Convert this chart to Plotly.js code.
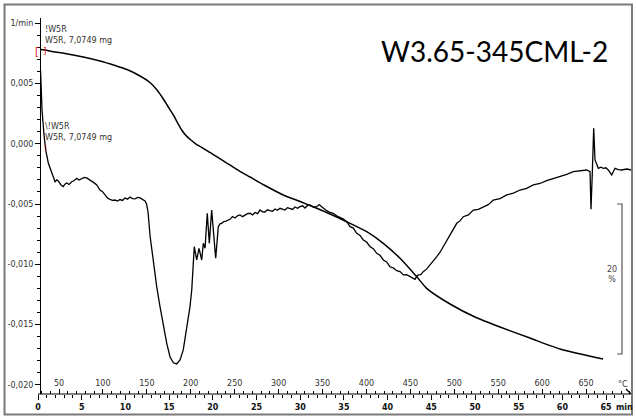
<!DOCTYPE html>
<html>
<head>
<meta charset="utf-8">
<script src="https://cdn.plot.ly/plotly-3.0.1.min.js"></script>
<style>html,body{margin:0;padding:0;background:#fff;}#chart{width:636px;height:419px;}</style>
</head>
<body>
<div id="chart"></div>
<script>
// ---- DTG (1/min) vs time (min) ----
const dtgTime = [
  0.29,0.46,0.69,0.88,1.18,1.57,1.95,2.15,2.32,2.63,
  2.89,3.08,3.28,3.55,3.86,4.15,4.43,4.69,5.00,5.30,
  5.57,5.85,6.14,6.43,6.72,7.09,7.38,7.67,7.95,8.24,
  8.52,8.81,9.10,9.38,9.67,9.95,10.24,10.53,10.81,11.10,
  11.38,11.67,11.95,12.24,12.42,12.59,12.81,13.19,13.58,13.96,
  14.34,14.73,15.10,15.48,15.87,16.25,16.62,17.01,17.39,17.59,
  17.77,17.88,18.16,18.42,18.73,18.91,19.11,19.37,19.60,19.87,
  20.06,20.33,20.63,20.82,21.02,21.25,21.51,21.75,21.97,22.25,
  22.54,22.82,23.11,23.40,23.68,23.97,24.26,24.55,24.83,25.12,
  25.40,25.69,25.97,26.25,26.54,26.83,27.12,27.40,27.69,27.97,
  28.26,28.55,28.83,29.12,29.41,29.70,29.98,30.27,30.55,30.84,
  31.12,31.50,31.89,32.18,32.46,32.75,33.03,33.41,33.79,34.17,
  34.55,34.94,35.32,35.70,36.08,36.46,36.84,37.22,37.60,37.99,
  38.37,38.75,39.13,39.51,39.89,40.27,40.65,41.04,41.42,41.80,
  42.18,42.56,42.85,43.14,43.32,43.51,43.80,44.08,44.46,44.85,
  45.23,45.62,46.00,46.37,46.75,47.14,47.52,47.91,48.28,48.66,
  49.24,49.81,50.38,50.95,51.52,52.09,52.86,53.63,54.39,55.15,
  55.91,56.67,57.44,58.20,58.97,59.73,60.49,61.25,62.02,62.78,
  63.16,63.27,63.42,63.58,63.73,64.11,64.40,64.68,64.97,65.25,
  65.64,66.02,66.40,66.78,67.35,67.93
];
const dtgValue = [
  0.00611,0.00279,0.00072,-0.00052,-0.00160,-0.00243,-0.00315,-0.00300,-0.00309,-0.00342,
  -0.00356,-0.00335,-0.00326,-0.00338,-0.00315,-0.00305,-0.00287,-0.00301,-0.00287,-0.00280,
  -0.00284,-0.00296,-0.00315,-0.00325,-0.00342,-0.00384,-0.00398,-0.00425,-0.00450,-0.00461,
  -0.00470,-0.00467,-0.00475,-0.00463,-0.00470,-0.00450,-0.00460,-0.00442,-0.00455,-0.00458,
  -0.00445,-0.00450,-0.00462,-0.00475,-0.00500,-0.00566,-0.00757,-0.00989,-0.01185,-0.01351,
  -0.01517,-0.01655,-0.01766,-0.01816,-0.01826,-0.01793,-0.01710,-0.01544,-0.01351,-0.01213,
  -0.00991,-0.00854,-0.00964,-0.00867,-0.00964,-0.00826,-0.00867,-0.00577,-0.00826,-0.00550,
  -0.00715,-0.00950,-0.00688,-0.00665,-0.00660,-0.00645,-0.00641,-0.00630,-0.00627,-0.00605,
  -0.00616,-0.00598,-0.00591,-0.00605,-0.00595,-0.00580,-0.00577,-0.00590,-0.00570,-0.00580,
  -0.00550,-0.00565,-0.00566,-0.00548,-0.00555,-0.00560,-0.00541,-0.00552,-0.00536,-0.00545,
  -0.00550,-0.00530,-0.00536,-0.00545,-0.00525,-0.00535,-0.00522,-0.00515,-0.00533,-0.00512,
  -0.00508,-0.00525,-0.00522,-0.00505,-0.00522,-0.00540,-0.00555,-0.00570,-0.00577,-0.00598,
  -0.00610,-0.00625,-0.00647,-0.00688,-0.00700,-0.00743,-0.00760,-0.00798,-0.00815,-0.00854,
  -0.00870,-0.00909,-0.00925,-0.00964,-0.00980,-0.01020,-0.01030,-0.01053,-0.01060,-0.01088,
  -0.01085,-0.01103,-0.01110,-0.01124,-0.01100,-0.01088,-0.01085,-0.01061,-0.01040,-0.01006,
  -0.00980,-0.00937,-0.00900,-0.00854,-0.00800,-0.00749,-0.00710,-0.00660,-0.00640,-0.00605,
  -0.00590,-0.00550,-0.00545,-0.00522,-0.00505,-0.00467,-0.00455,-0.00425,-0.00410,-0.00384,
  -0.00370,-0.00342,-0.00330,-0.00307,-0.00290,-0.00268,-0.00255,-0.00232,-0.00225,-0.00218,
  -0.00232,-0.00544,-0.00245,0.00128,-0.00135,-0.00204,-0.00195,-0.00204,-0.00200,-0.00218,
  -0.00259,-0.00204,-0.00215,-0.00218,-0.00210,-0.00218
];

// ---- TG (mass %) vs time (min) ----
const tgTime = [0.23,0.80,1.75,3.09,5.18,7.09,8.81,10.18,11.67,12.81,13.62,14.34,14.87,15.48,16.02,16.44,16.93,17.39,18.08,18.91,19.68,20.44,21.51,22.73,24.26,25.97,28.07,29.98,31.89,33.41,35.32,37.61,39.51,41.42,43.33,44.47,47.14,50.0,52.86,56.29,59.73,64.65];
const tgMass = [100.0,99.93,99.71,99.47,99.0,98.47,97.87,97.33,96.47,95.6,94.6,93.4,92.4,91.27,90.13,89.27,88.53,88.03,87.4,86.83,86.27,85.71,84.93,84.03,83.0,81.87,80.6,79.73,78.83,78.07,77.04,75.71,74.16,72.16,69.71,68.16,66.07,64.33,63.0,61.53,60.07,58.73];

// ---- axis tick labels ----
const yTickVals = [-0.020,-0.015,-0.010,-0.005,0.000,0.005,0.010];
const yTickText = ['-0,020','-0,015','-0,010','-0,005','0,000','0,005','1/min'];
const tempTicks = [50,100,150,200,250,300,350,400,450,500,550,600,650];
const sampleLabel = 'W5R, 7,0749 mg';
const chartTitle = 'W3.65-345CML-2';

// ---- geometry helpers (layout only) ----
const W = 636, H = 419, ML = 36, MR = 0, MT = 18, MB = 25;
const PW = W - ML - MR, PH = H - MT - MB;
const px = x => (x - ML) / PW;          // pixel -> paper x
const py = y => (H - MB - y) / PH;      // pixel -> paper y

const F = 'DejaVu Sans, Verdana, sans-serif';

const traces = [
  {x: tgTime, y: tgMass, xaxis: 'x', yaxis: 'y2', type: 'scatter', mode: 'lines',
   line: {color: '#000', width: 1.5, shape: 'spline', smoothing: 0.6}, hoverinfo: 'skip', showlegend: false},
  {x: dtgTime, y: dtgValue, xaxis: 'x', yaxis: 'y', type: 'scatter', mode: 'lines',
   line: {color: '#000', width: 1.3}, hoverinfo: 'skip', showlegend: false},
  {x: [], y: [], xaxis: 'x2', yaxis: 'y', type: 'scatter', mode: 'lines', showlegend: false, hoverinfo: 'skip'}
];

const layout = {
  width: W, height: H,
  margin: {l: ML, r: MR, t: MT, b: MB, pad: 0},
  paper_bgcolor: '#fff', plot_bgcolor: '#fff',
  showlegend: false, hovermode: false,
  xaxis: {
    range: [-0.229, 68.42], tickmode: 'linear', tick0: 0, dtick: 5,
    ticks: 'outside', ticklen: 5, tickwidth: 1, tickcolor: '#000',
    minor: {tick0: 0, dtick: 1, ticks: 'outside', ticklen: 3, tickwidth: 1, tickcolor: '#000'},
    showline: false, showgrid: false, zeroline: false,
    tickfont: {family: F, size: 8, color: '#111', weight: 'bold'}
  },
  xaxis2: {
    overlaying: 'x', anchor: 'free', position: 0, side: 'top',
    range: [23.81, 706.9], tickmode: 'array', tickvals: tempTicks, ticktext: tempTicks.map(String),
    ticks: 'outside', ticklen: 5, tickwidth: 1, tickcolor: '#000',
    minor: {tick0: 0, dtick: 10, ticks: 'outside', ticklen: 3, tickwidth: 1, tickcolor: '#000'},
    showline: false, showgrid: false, zeroline: false,
    tickfont: {family: F, size: 8, color: '#333'}
  },
  yaxis: {
    anchor: 'free', position: px(40),
    range: [-0.02075, 0.01042], tickmode: 'array', tickvals: yTickVals, ticktext: yTickText,
    ticks: 'outside', ticklen: 5, tickwidth: 1, tickcolor: '#000',
    minor: {tick0: 0, dtick: 0.001, ticks: 'outside', ticklen: 3, tickwidth: 1, tickcolor: '#000'},
    showline: true, linecolor: '#000', linewidth: 1.2,
    showgrid: false, zeroline: false,
    tickfont: {family: F, size: 8, color: '#333'}
  },
  yaxis2: {overlaying: 'y', range: [54.07, 104.2], visible: false},
  shapes: [
    // outer frame
    {type: 'rect', xref: 'paper', yref: 'paper', x0: px(4.5), x1: px(632), y0: py(414.5), y1: py(4.5),
     line: {color: '#7a7a7a', width: 2}, fillcolor: 'rgba(0,0,0,0)'},
    // time/temperature ruler line with arrow
    {type: 'line', xref: 'x', yref: 'paper', x0: 0, x1: 67.8, y0: 0, y1: 0, line: {color: '#000', width: 1.2}},
    {type: 'path', xref: 'paper', yref: 'paper',
     path: `M ${px(626)} ${py(389)} L ${px(631)} ${py(394)}`, line: {color: '#000', width: 1.2}},
    // 20 % scale bar (in TG units)
    {type: 'path', xref: 'paper', yref: 'y2',
     path: `M ${px(617)} 79.4 L ${px(622)} 79.4 L ${px(622)} 59.4 L ${px(617)} 59.4`,
     line: {color: '#555', width: 1.2}}
  ],
  annotations: [
    {xref: 'paper', yref: 'paper', x: px(494), y: py(51), xanchor: 'center', yanchor: 'middle',
     text: chartTitle, showarrow: false, font: {family: 'Lato, Open Sans, sans-serif', size: 28, color: '#000'}},
    {xref: 'x', yref: 'y', x: 0.57, y: 0.00945, xanchor: 'left', yanchor: 'middle', text: '!W5R',
     showarrow: false, font: {family: F, size: 8, color: '#333'}},
    {xref: 'x', yref: 'y', x: 0.57, y: 0.00855, xanchor: 'left', yanchor: 'middle', text: sampleLabel,
     showarrow: false, font: {family: F, size: 8, color: '#333'}},
    {xref: 'x', yref: 'y', x: 0.57, y: 0.00145, xanchor: 'left', yanchor: 'middle', text: '\\!W5R',
     showarrow: false, font: {family: F, size: 8, color: '#333'}},
    {xref: 'x', yref: 'y', x: 0.57, y: 0.00055, xanchor: 'left', yanchor: 'middle', text: sampleLabel,
     showarrow: false, font: {family: F, size: 8, color: '#333'}},
    // red limit markers
    {xref: 'x', yref: 'y2', x: -0.11, y: 99.73, text: '[', showarrow: false, xanchor: 'center', yanchor: 'middle',
     font: {family: F, size: 10, color: '#e02010'}},
    {xref: 'x', yref: 'y2', x: 0.80, y: 99.8, text: ']', showarrow: false, xanchor: 'center', yanchor: 'middle',
     font: {family: F, size: 9, color: '#e02010'}},
    {xref: 'x', yref: 'y', x: 0.86, y: -0.00036, text: ']', showarrow: false, xanchor: 'center', yanchor: 'middle',
     font: {family: F, size: 7, color: '#e02010'}},
    // units
    {xref: 'paper', yref: 'paper', x: px(623), y: py(384), text: '°C', showarrow: false, xanchor: 'center', yanchor: 'middle',
     font: {family: F, size: 8, color: '#333'}},
    {xref: 'paper', yref: 'paper', x: px(614), y: py(407), text: 'min', showarrow: false, xanchor: 'left', yanchor: 'middle',
     font: {family: F, size: 8, color: '#111', weight: 'bold'}},
    {xref: 'paper', yref: 'paper', x: px(612), y: py(274), text: '20<br>%', showarrow: false, xanchor: 'center', yanchor: 'middle',
     font: {family: F, size: 8, color: '#444'}}
  ]
};

Plotly.newPlot('chart', traces, layout, {displayModeBar: false, staticPlot: true});
</script>
</body>
</html>
